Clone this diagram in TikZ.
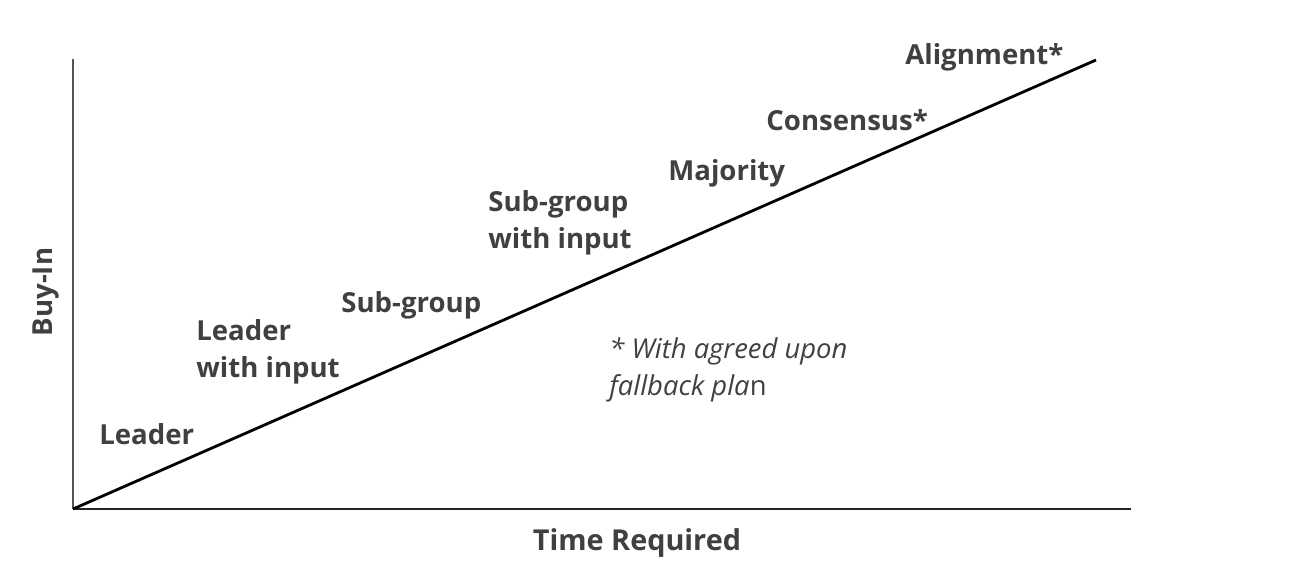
\documentclass[tikz,border=0pt]{standalone}
\usepackage{fontspec}
\setmainfont{Open Sans}
\usepackage{tikz}
\usetikzlibrary{positioning}
\definecolor{labelgray}{HTML}{404040}
\definecolor{axisgray}{HTML}{555555}

\begin{document}
\begin{tikzpicture}[
    x=0.02cm, y=-0.02cm,
    stage/.style={anchor=west, inner sep=0pt, align=left, text=labelgray, font=\fontsize{15.7}{21}\selectfont\bfseries},
    note/.style={anchor=west, inner sep=0pt, align=left, text=labelgray, font=\fontsize{15.6}{21}\selectfont\itshape},
    axis/.style={line width=1.6pt},
    trend/.style={line width=1.6pt, black}
]
    \useasboundingbox (0,0) rectangle (1314,569);

    % axes
    \coordinate (origin) at (73,509);
    \coordinate (ytop) at (73,59);
    \coordinate (xend) at (1131,509);
    \coordinate (trendend) at (1096,60);

    \draw[axis, axisgray] (origin) -- (ytop);
    \draw[axis, black!85] (origin) -- (xend);
    \draw[trend] (origin) -- (trendend);

    % axis labels
    \node[stage, anchor=center, rotate=90] (buyin) at (46,292) {Buy-In};
    \node[stage, anchor=center, font=\fontsize{16.4}{21}\selectfont\bfseries] (time) at (637,543) {Time Required};

    % decision styles along the line
    \node[stage] (leader) at (99,434) {Leader};
    \node[stage] (leaderinput) at (196,352) {Leader\\with input};
    \node[stage] (subgroup) at (341,305) {Sub-group};
    \node[stage] (subgroupinput) at (488,223) {Sub-group\\with input};
    \node[stage] (majority) at (668,173) {Majority};
    \node[stage] (consensus) at (766,120) {Consensus*};
    \node[stage] (alignment) at (905,57) {Alignment*};

    \node[note] (fallback) at (609,370) {* With agreed upon\\fallback pla\textup{n}};
\end{tikzpicture}
\end{document}
